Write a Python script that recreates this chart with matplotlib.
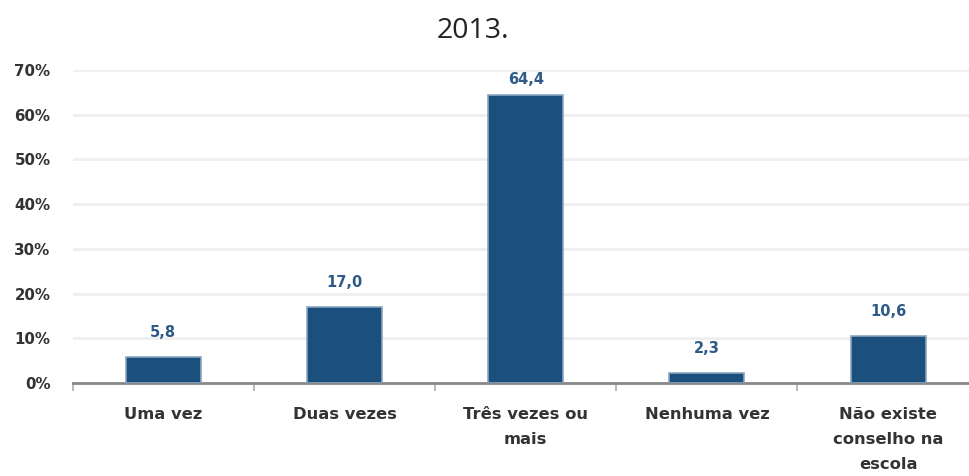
import matplotlib
matplotlib.use("Agg")
import matplotlib.pyplot as plt
import numpy as np

categories = ["Uma vez", "Duas vezes", "Três vezes ou\nmais", "Nenhuma vez", "Não existe\nconselho na\nescola"]
values = [5.8, 17.0, 64.4, 2.3, 10.6]
value_labels = ["5,8", "17,0", "64,4", "2,3", "10,6"]
yticks = [0, 10, 20, 30, 40, 50, 60, 70]
ytick_labels = ["0%", "10%", "20%", "30%", "40%", "50%", "60%", "70%"]
title = "2013."

fig = plt.figure(figsize=(9.69, 4.76), dpi=100)
ax = fig.add_axes([0.075, 0.1954, 0.935, 0.658])

x = np.arange(len(categories))
bars = ax.bar(x, values, width=0.414, color="#1a4f7e", edgecolor="#8aa5c0", linewidth=1.2, zorder=3)
ax.set_xlim(-0.5, len(categories) - 0.5)
ax.set_ylim(0, 70)
ax.set_yticks(yticks)
ax.set_yticklabels(ytick_labels, fontsize=10.8, fontweight="bold", color="#333333", family="DejaVu Sans")
ax.yaxis.grid(True, color="#efefef", linewidth=2, zorder=0)
ax.tick_params(axis="y", length=0, pad=16)

ax.set_xticks(x)
ax.set_xticklabels(categories, fontsize=11.8, fontweight="bold", color="#333333", family="DejaVu Sans", linespacing=1.85)
ax.tick_params(axis="x", length=0, pad=17)
# boundary ticks
ax.set_xticks(np.arange(-0.5, len(categories) + 0.5, 1.0), minor=True)
ax.tick_params(axis="x", which="minor", length=6, width=1.5, color="#bbbbbb", direction="out")

for s in ["top", "right", "left"]:
    ax.spines[s].set_visible(False)
ax.spines["bottom"].set_color("#888888")
ax.spines["bottom"].set_linewidth(2)

for xi, v, lab in zip(x, values, value_labels):
    ly = min(v + 5.4, 67.8)
    ax.text(xi, ly, lab, ha="center", va="center",
            fontsize=10.5, fontweight="bold", color="#2e5a87", family="DejaVu Sans")

fig.text(0.488, 0.935, title, ha="center", va="center", fontsize=20.5, color="#222222", family="Open Sans")

fig.savefig("out.png", dpi=100)
